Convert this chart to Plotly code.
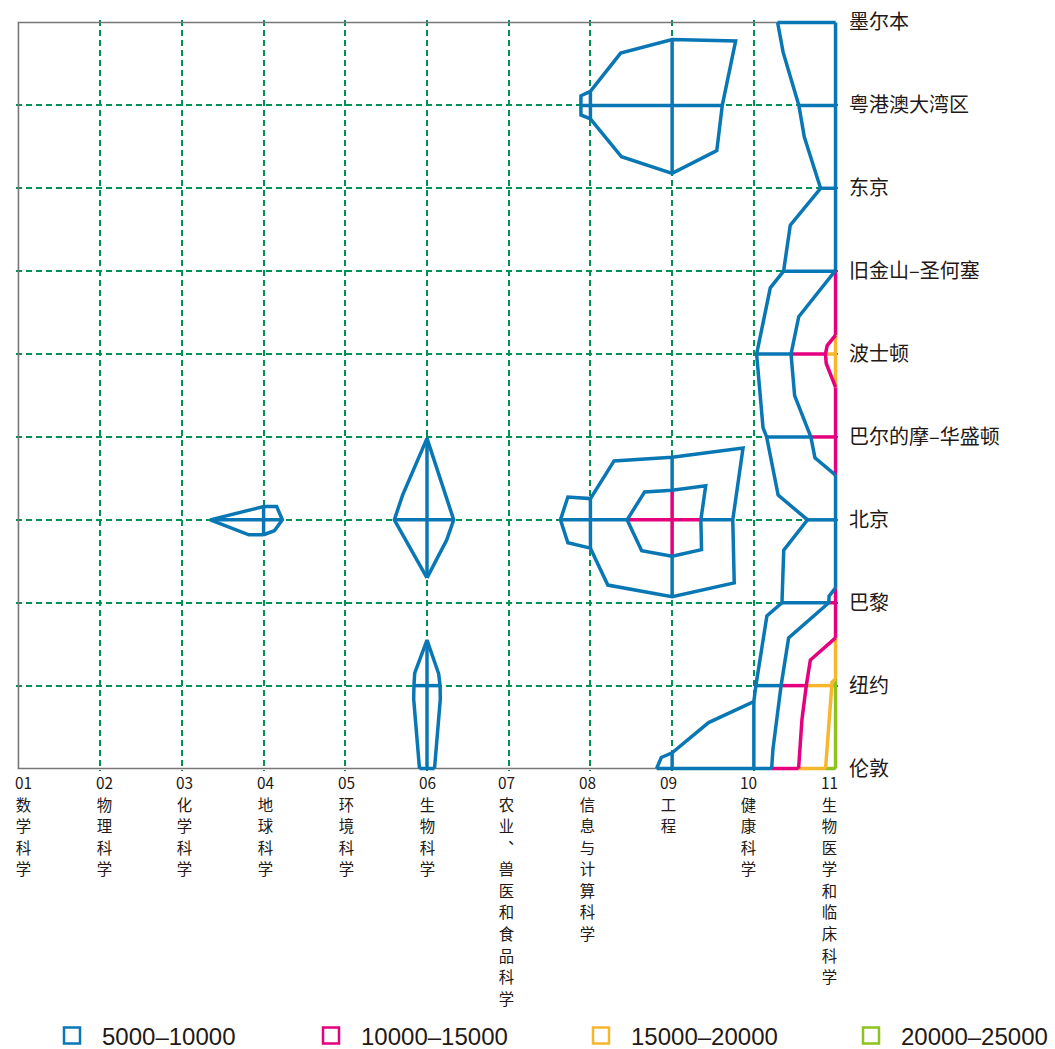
import plotly.graph_objects as go
from collections import defaultdict

# ---------------- data ----------------
codes = ["01", "02", "03", "04", "05", "06", "07", "08", "09", "10", "11"]
disciplines = ["数学科学", "物理科学", "化学科学", "地球科学", "环境科学", "生物科学",
               "农业︑兽医和食品科学", "信息与计算科学", "工程", "健康科学", "生物医学和临床科学"]
cities = ["伦敦", "纽约", "巴黎", "北京", "巴尔的摩–华盛顿", "波士顿",
          "旧金山–圣何塞", "东京", "粤港澳大湾区", "墨尔本"]

# values per city (columns follow the discipline order 01..11)
v_london    = [1200, 1500, 1300, 1800, 2000, 5304, 2000, 3632, 5321, 6700, 21850]
v_newyork   = [1000, 1400, 1200, 1600, 1934, 5584, 1934, 2907, 3632, 4595, 20800]
v_paris     = [900, 1300, 2722, 2722, 1700, 4521, 1500, 2430, 4270, 2000, 10717]
v_beijing   = [1500, 2500, 4734, 5500, 3326, 6117, 2700, 6333, 14500, 1700, 6720]
v_baltimore = [800, 1100, 1200, 2375, 2375, 4980, 1500, 1130, 1900, 3550, 12795]
v_boston    = [700, 1000, 900, 1200, 1500, 3000, 1200, 1100, 2000, 4596, 16470]
v_sanfran   = [600, 900, 800, 1000, 1200, 1800, 1000, 1200, 2000, 2110, 10050]
v_tokyo     = [500, 800, 700, 900, 1000, 1500, 500, 1997, 3924, 935, 5910]
v_gba       = [400, 700, 600, 800, 900, 1200, 555, 5589, 9900, 1916, 7513]
v_melbourne = [300, 500, 500, 700, 800, 1000, 500, 2122, 3736, 3598, 8416]

values = [v_london, v_newyork, v_paris, v_beijing, v_baltimore,
          v_boston, v_sanfran, v_tokyo, v_gba, v_melbourne]

levels = [5000, 10000, 15000, 20000]
legend_labels = ["5000–10000", "10000–15000", "15000–20000", "20000–25000"]

# ---------------- styles ----------------
BLUE = "#0A77B5"
MAGENTA = "#E4007F"
ORANGE = "#F8B62D"
GREEN = "#8DC21F"
GRID = "#009155"
TEXT = "#231815"
band_colors = [BLUE, MAGENTA, ORANGE, GREEN]        # band 1..4
contour_colors = [BLUE, BLUE, MAGENTA, ORANGE]      # outline for each level
LW = 3.5
CJK = "Noto Sans CJK SC"

nx, ny = len(codes), len(cities)


def val(n):
    return values[n[1]][n[0]]


def cross(n1, n2, L):
    if n2 < n1:
        n1, n2 = n2, n1
    a, b = val(n1), val(n2)
    t = (L - a) / (b - a)
    return (round(n1[0] + t * (n2[0] - n1[0]), 9), round(n1[1] + t * (n2[1] - n1[1]), 9))


def triangles():
    for j in range(ny - 1):
        for i in range(nx - 1):
            A, B, C, D = (i, j), (i + 1, j), (i, j + 1), (i + 1, j + 1)
            if val(A) + val(D) >= val(B) + val(C):
                yield (A, B, D)
                yield (A, D, C)
            else:
                yield (A, B, C)
                yield (B, D, C)


def contour_segments(L):
    segs = []
    for tri in triangles():
        hi = [val(n) >= L for n in tri]
        if all(hi) or not any(hi):
            continue
        pts = [cross(tri[a], tri[b], L) for a, b in ((0, 1), (1, 2), (2, 0)) if hi[a] != hi[b]]
        if len(pts) == 2 and pts[0] != pts[1]:
            segs.append((pts[0], pts[1]))
    return segs


def chain(segs):
    adj = defaultdict(list)
    for k, (p, q) in enumerate(segs):
        adj[p].append(k)
        adj[q].append(k)
    used = [False] * len(segs)
    paths = []
    starts = [p for p in adj if len(adj[p]) == 1] + list(adj.keys())
    for s in starts:
        for k in adj[s]:
            if used[k]:
                continue
            path, cur, kk = [s], s, k
            while kk is not None:
                used[kk] = True
                p, q = segs[kk]
                nxt = q if p == cur else p
                path.append(nxt)
                cur = nxt
                kk = next((m for m in adj[cur] if not used[m]), None)
            paths.append(path)
    return paths


def grid_runs():
    runs = {b: [] for b in range(1, len(levels) + 1)}
    lines = [[(i, j) for i in range(nx)] for j in range(ny)] + \
            [[(i, j) for j in range(ny)] for i in range(nx)]
    for nodes in lines:
        pieces = []
        for n1, n2 in zip(nodes[:-1], nodes[1:]):
            a, b = val(n1), val(n2)
            ts = sorted(set([0.0, 1.0] + [(L - a) / (b - a) for L in levels if (a - L) * (b - L) < 0]))
            for t0, t1 in zip(ts[:-1], ts[1:]):
                vm = a + (t0 + t1) / 2 * (b - a)
                band = sum(vm >= L for L in levels)
                p0 = (n1[0] + t0 * (n2[0] - n1[0]), n1[1] + t0 * (n2[1] - n1[1]))
                p1 = (n1[0] + t1 * (n2[0] - n1[0]), n1[1] + t1 * (n2[1] - n1[1]))
                if pieces and pieces[-1][2] == band:
                    pieces[-1] = (pieces[-1][0], p1, band)
                else:
                    pieces.append((p0, p1, band))
        for p0, p1, band in pieces:
            if band > 0:
                runs[band].append((p0, p1))
    return runs


fig = go.Figure()

# plot frame (left, top, bottom edges of the grid)
fig.add_trace(go.Scatter(x=[nx - 1, 0, 0, nx - 1], y=[ny - 1, ny - 1, 0, 0], mode="lines",
                         showlegend=False, hoverinfo="skip",
                         line=dict(color="#777777", width=1.6)))

# coloured grid segments inside each value band
for band, segs in grid_runs().items():
    xs, ys = [], []
    for p0, p1 in segs:
        xs += [p0[0], p1[0], None]
        ys += [p0[1], p1[1], None]
    if xs:
        fig.add_trace(go.Scatter(x=xs, y=ys, mode="lines", showlegend=False, hoverinfo="skip",
                                 line=dict(color=band_colors[band - 1], width=LW)))

# contour outlines
for li, L in enumerate(levels):
    xs, ys = [], []
    for path in chain(contour_segments(L)):
        xs += [p[0] for p in path] + [None]
        ys += [p[1] for p in path] + [None]
    if xs:
        fig.add_trace(go.Scatter(x=xs, y=ys, mode="lines", showlegend=False, hoverinfo="skip",
                                 line=dict(color=contour_colors[li], width=LW)))

# legend entries (one legend box per band so they sit at fixed places)
legend_names = ["legend", "legend2", "legend3", "legend4"]
legend_x_px = [42, 301, 571, 841]
for lab, col, lg in zip(legend_labels, band_colors, legend_names):
    fig.add_trace(go.Scatter(x=[None], y=[None], yaxis="y2", mode="markers", name=lab,
                             showlegend=True, legend=lg,
                             marker=dict(symbol="square-open", size=18, color=col,
                                         line=dict(width=2.5, color=col))))
legend_layout = {}
for lg, xp in zip(legend_names, legend_x_px):
    legend_layout[lg] = dict(orientation="v", xref="container", yref="container",
                             x=xp / 1055, y=13 / 1049, xanchor="left", yanchor="middle",
                             font=dict(family="Liberation Sans", size=24, color=TEXT),
                             itemwidth=50, bgcolor="rgba(0,0,0,0)")

# vertical discipline labels below the axis (one text block per discipline)
annotations = []
for i, (code, name) in enumerate(zip(codes, disciplines)):
    txt = "<br>".join('<span style="font-size:15.4px">%s</span>' % ch for ch in [code] + list(name))
    annotations.append(dict(x=i, y=0, xref="x", yref="y", text=txt, showarrow=False,
                            xanchor="center", yanchor="top", align="center",
                            xshift=round(5 - 1.1 * i), yshift=0,
                            font=dict(family=CJK, size=16.6, color=TEXT)))

pad = 0.03
yrange = [-pad, ny - 1 + pad]
grid_style = dict(showgrid=True, gridcolor=GRID, gridwidth=2, griddash="6px,4px")
fig.update_layout(
    width=1055, height=1049,
    margin=dict(l=15.5, r=216.5, t=19.5, b=277.5, autoexpand=False),
    paper_bgcolor="white", plot_bgcolor="white",
    showlegend=True,
    annotations=annotations,
    xaxis=dict(range=[-pad, nx - 1 + pad], tickvals=list(range(1, nx - 1)), showticklabels=False,
               zeroline=False, showline=False, ticks="", layer="below traces", fixedrange=True,
               **grid_style),
    yaxis=dict(range=yrange, tickvals=list(range(ny)), ticktext=cities,
               side="right", showgrid=False,
               zeroline=False, showline=False, ticks="outside", ticklen=6,
               tickcolor="rgba(0,0,0,0)", tickfont=dict(family=CJK, size=20, color=TEXT),
               layer="below traces", fixedrange=True),
    yaxis2=dict(range=yrange, overlaying="y", side="left", tickvals=list(range(1, ny - 1)),
                showticklabels=False, ticks="", zeroline=False, showline=False,
                layer="below traces", fixedrange=True, **grid_style),
    **legend_layout,
)

fig.write_html("out.html", config={"displayModeBar": False},
               post_script="document.body.style.margin='0px';")
